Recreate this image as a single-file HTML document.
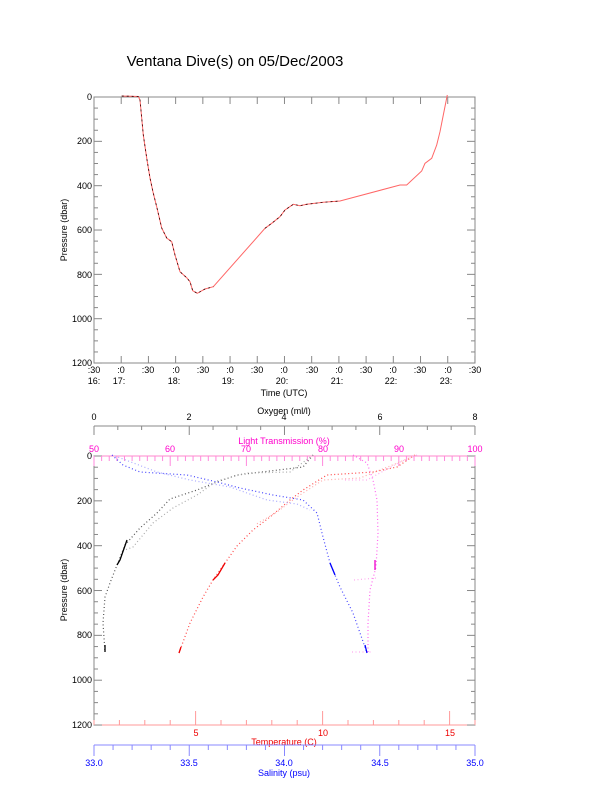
<!DOCTYPE html>
<html><head><meta charset="utf-8"><style>
html,body{margin:0;padding:0;background:#fff;}
svg{display:block;font-family:"Liberation Sans",sans-serif;}
</style></head><body>
<svg id="s" width="612" height="785" viewBox="0 0 612 785" xmlns="http://www.w3.org/2000/svg">
<text x="235" y="66" font-size="15" text-anchor="middle">Ventana Dive(s) on 05/Dec/2003</text>

<rect x="94" y="97" width="381" height="266" fill="none" stroke="#888" stroke-width="1"/>
<g font-size="9" text-anchor="end">
<text x="92" y="100">0</text><text x="92" y="144">200</text><text x="92" y="189">400</text>
<text x="92" y="233">600</text><text x="92" y="278">800</text><text x="92" y="322">1000</text><text x="92" y="366">1200</text>
</g>
<text transform="translate(67,230) rotate(-90)" font-size="9" text-anchor="middle">Pressure (dbar)</text>
<g font-size="9" text-anchor="middle">
<text x="94" y="373">:30</text><text x="121" y="373">:0</text><text x="148" y="373">:30</text><text x="176" y="373">:0</text>
<text x="203" y="373">:30</text><text x="230" y="373">:0</text><text x="257" y="373">:30</text><text x="284" y="373">:0</text>
<text x="312" y="373">:30</text><text x="339" y="373">:0</text><text x="366" y="373">:30</text><text x="393" y="373">:0</text>
<text x="420" y="373">:30</text><text x="448" y="373">:0</text><text x="475" y="373">:30</text>
<text x="94" y="384">16:</text><text x="119" y="384">17:</text><text x="174" y="384">18:</text><text x="228" y="384">19:</text>
<text x="282" y="384">20:</text><text x="337" y="384">21:</text><text x="391" y="384">22:</text><text x="446" y="384">23:</text>
<text x="284" y="396">Time (UTC)</text>
</g>
<g id="topticks" stroke="#888" stroke-width="1"></g>
<polyline fill="none" stroke="#f66" stroke-width="1" points="121.7,96 138.3,96.5 140,100 143.3,135 146.7,158 150,178 153,192 156.7,206.7 161.7,228 166.7,238 171.7,241.7 175,255 180,271.7 186.7,277.7 190,281.7 192.7,290.7 197.3,293.3 205,289 213.3,286.7 265,228.3 271.7,223.3 280,216.7 285,210 293.3,204.3 300,205.7 306.7,204.3 323.3,202.3 340,201 400,185 406.7,185 421.7,171 425,163.3 431.7,158.3 436.7,145 440,131.7 443.3,115 447.3,95"/>
<polyline fill="none" stroke="#300" stroke-width="0.8" stroke-dasharray="2 3" points="121.7,96 138.3,96.5 140,100 143.3,135 146.7,158 150,178 153,192 156.7,206.7 161.7,228 166.7,238 171.7,241.7 175,255 180,271.7 186.7,277.7 190,281.7 192.7,290.7 197.3,293.3 205,289 213.3,286.7"/>
<polyline fill="none" stroke="#300" stroke-width="0.8" stroke-dasharray="2 3" points="265,228.3 271.7,223.3 280,216.7 285,210 293.3,204.3 300,205.7 306.7,204.3 323.3,202.3 340,201"/>

<g font-size="9" text-anchor="middle">
<text x="94" y="420">0</text><text x="189" y="420">2</text><text x="284" y="420">4</text><text x="380" y="420">6</text><text x="475" y="420">8</text>
<text x="284" y="414">Oxygen (ml/l)</text>
</g>
<line x1="94" y1="426" x2="475" y2="426" stroke="#888"/>
<g font-size="9" text-anchor="middle" fill="#f0c">
<text x="94" y="452">50</text><text x="170" y="452">60</text><text x="246" y="452">70</text><text x="323" y="452">80</text><text x="399" y="452">90</text><text x="475" y="452">100</text>
<text x="284" y="444">Light Transmission (%)</text>
</g>
<rect x="94" y="456" width="381" height="269" fill="none" stroke="#888" stroke-width="1"/>
<line x1="94" y1="456" x2="475" y2="456" stroke="#f8c"/>
<line x1="94" y1="725" x2="475" y2="725" stroke="#f99"/>
<g font-size="9" text-anchor="end">
<text x="92" y="459">0</text><text x="92" y="504">200</text><text x="92" y="549">400</text>
<text x="92" y="594">600</text><text x="92" y="638">800</text><text x="92" y="683">1000</text><text x="92" y="728">1200</text>
</g>
<text transform="translate(67,590) rotate(-90)" font-size="9" text-anchor="middle">Pressure (dbar)</text>
<g font-size="9" text-anchor="middle" fill="#e00">
<text x="196" y="736">5</text><text x="323" y="736">10</text><text x="450" y="736">15</text>
<text x="284" y="745">Temperature (C)</text>
</g>
<line x1="94" y1="745" x2="475" y2="745" stroke="#88f"/>
<g font-size="9" text-anchor="middle" fill="#00f">
<text x="94" y="766">33.0</text><text x="189" y="766">33.5</text><text x="284" y="766">34.0</text><text x="380" y="766">34.5</text><text x="475" y="766">35.0</text>
<text x="284" y="776">Salinity (psu)</text>
</g>
<g id="botticks"></g>

<g fill="none" stroke-width="1.2" stroke-dasharray="1 2.5">
<polyline stroke="#555" points="313,455 303,467 237,475 217,482 197,490 170,499 157,513 140,528 125,545 117,565 110,583 105,597 103,623 105,652"/>
<polyline stroke="#aaa" points="313,455 290,472 247,473 217,481 197,495 173,508 153,523 133,547 125,550"/>
<polyline stroke="#f44" points="415,455 397,467 373,472 327,475 303,490 290,500 270,517 253,530 237,546 225,563 213,580 203,597 190,623 179,653"/>
<polyline stroke="#faa" points="415,455 400,462 360,478 323,480 297,497 277,512 255,525"/>
<polyline stroke="#44f" points="112,455 123,465 140,472 187,475 217,482 240,488 273,495 303,500 317,513 323,537 330,563 340,587 353,613 367,653"/>
<polyline stroke="#aaf" points="115,456 157,472 190,480 230,487 267,500 297,504 310,510"/>
<polyline stroke="#f6e" points="353,455 367,463 373,480 377,500 378,533 376,567 370,590 368,623 368,652"/>
<polyline stroke="#fae" points="417,455 400,462 367,480 345,480"/>
<polyline stroke="#fae" points="352,652 372,652"/>
<polyline stroke="#fae" points="354,580 376,578"/>
</g>
<g stroke-width="1.3" fill="none">
<polyline stroke="#000" points="127,540 120,560 117,565"/>
<polyline stroke="#000" points="105,645 105,652"/>
<polyline stroke="#e00" points="225,563 218,575 213,580"/>
<polyline stroke="#e00" points="181,647 179,653"/>
<polyline stroke="#00f" points="330,563 335,575"/>
<polyline stroke="#00f" points="365,645 367,653"/>
<polyline stroke="#e0c" points="375,560 375,570"/>
</g>
</svg>
<script>
var NS="http://www.w3.org/2000/svg";
function ln(g,x1,y1,x2,y2,c){var l=document.createElementNS(NS,"line");l.setAttribute("x1",x1);l.setAttribute("y1",y1);l.setAttribute("x2",x2);l.setAttribute("y2",y2);l.setAttribute("stroke",c);g.appendChild(l);}
var t=document.getElementById("topticks"),b=document.getElementById("botticks");
for(var p=0;p<=1200;p+=50){var y=97+p*0.2217,L=(p%200==0)?8:4;ln(t,94,y,94+L,y,"#888");ln(t,475,y,475-L,y,"#888");
 var y2=456+p*0.2242;ln(b,94,y2,94+L,y2,"#888");ln(b,475,y2,475-L,y2,"#888");}
for(var k=0;k<=14;k++){var x=94+k*27.21;ln(t,x,363,x,356,"#888");ln(t,x,97,x,104,"#888");}
for(var k=0;k<=16;k++){var x=94+k*23.81;ln(b,x,426,x,k%4==0?435:430,"#888");}
for(var k=0;k<=50;k++){var x=94+k*7.62;ln(b,x,456,x,k%10==0?466:461,"#f8d");}
for(var k=1;k<=16;k++){var x=94+(k-1)*25.4;ln(b,x,725,x,k%5==0?711:720,"#f99");}
for(var k=0;k<=20;k++){var x=94+k*19.05;ln(b,x,745,x,k%5==0?756:750,"#88f");}
</script>
</body></html>
